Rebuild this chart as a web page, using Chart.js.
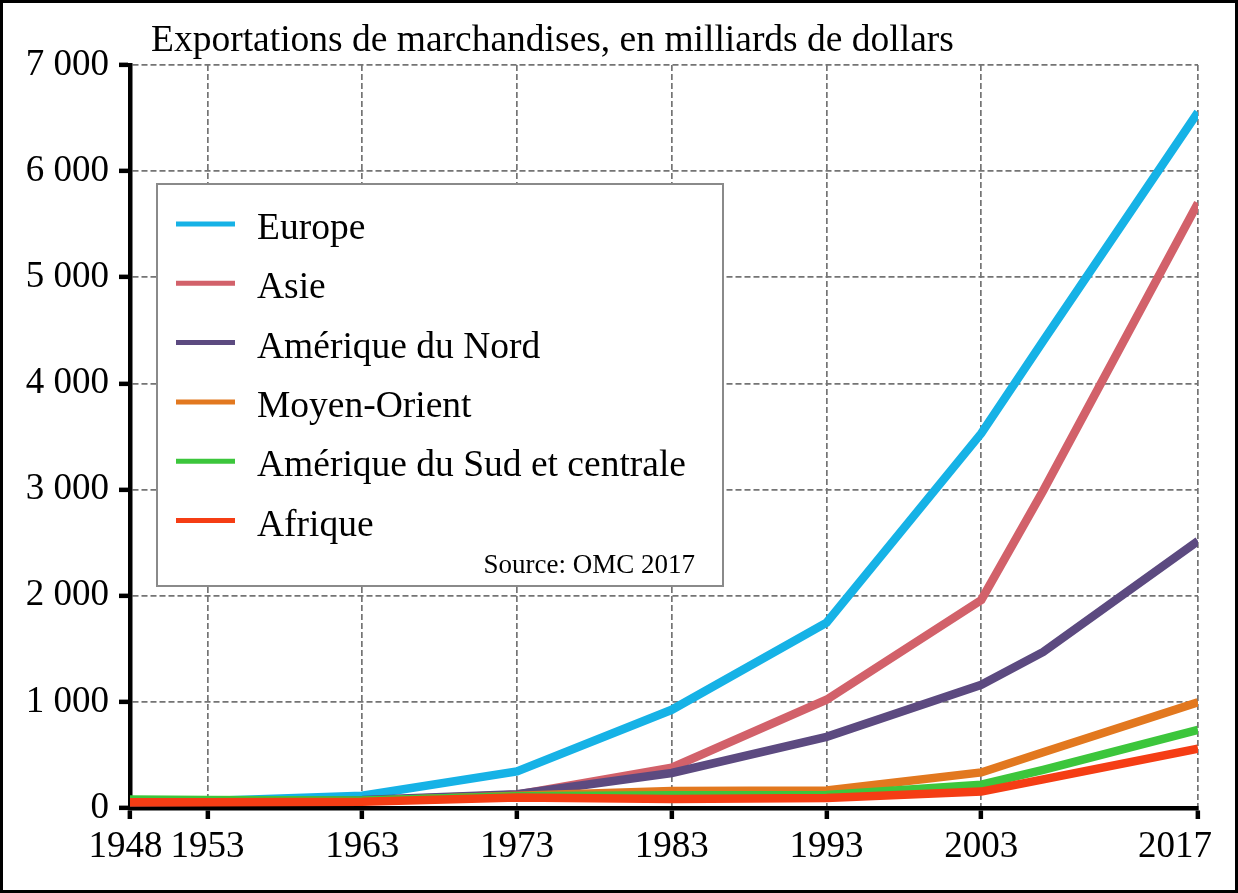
<!DOCTYPE html>
<html><head><meta charset="utf-8">
<script src="https://cdn.jsdelivr.net/npm/chart.js@4"></script>
<style>html,body{margin:0;padding:0;background:#fff;overflow:hidden}#wrap{width:1238px;height:893px;position:relative}</style>
</head><body><div id="wrap"><canvas id="c" width="1238" height="893"></canvas></div>
<script>
// ---- data ----
const years = [1948, 1953, 1963, 1973, 1983, 1993, 2003, 2007, 2017];
const xTickYears = [1948, 1953, 1963, 1973, 1983, 1993, 2003, 2017];
const yTickValues = [0, 1000, 2000, 3000, 4000, 5000, 6000, 7000];
const seriesNames = ["Europe", "Asie", "Amérique du Nord", "Moyen-Orient", "Amérique du Sud et centrale", "Afrique"];
const europe      = [60, 65, 115, 345, 925, 1745, 3530, 4400, 6555];
const asie        = [55, 60, 70, 125, 380, 1020, 1960, 2990, 5700];
const ameriqueNord= [60, 65, 75, 130, 330, 670, 1160, 1470, 2515];
const moyenOrient = [60, 60, 65, 115, 160, 165, 335, 525, 995];
const ameriqueSud = [80, 75, 70, 110, 120, 122, 220, 360, 735];
const afrique     = [55, 55, 60, 100, 85, 95, 155, 270, 560];
const seriesColors = ["#16b2e6", "#d2616a", "#5c4a80", "#e2781f", "#3cc63c", "#f53d14"];
const titleText = "Exportations de marchandises, en milliards de dollars";
const sourceText = "Source: OMC 2017";

const allSeries = [europe, asie, ameriqueNord, moyenOrient, ameriqueSud, afrique];
const SERIF = "'Liberation Serif', 'Times New Roman', serif";

function fmt(v){ const s = String(Math.round(v)); return s.length > 3 ? s.slice(0, s.length-3) + " " + s.slice(-3) : s; }
function xLabel(v, i){
  if (i === 0) return String(v) + " ";
  if (i === xTickYears.length - 1) return String(v) + "     ";
  return String(v);
}

const datasets = allSeries.map((vals, i) => ({
  label: seriesNames[i],
  data: vals.map((v, j) => ({x: years[j], y: v})),
  borderColor: seriesColors[i],
  backgroundColor: seriesColors[i],
  borderWidth: 8.5,
  pointRadius: 0,
  tension: 0,
  fill: false,
  order: allSeries.length - i
}));

const decor = {
  id: 'decor',
  beforeDatasetsDraw(chart) {
    const ctx = chart.ctx;
    ctx.save();
    const bx = 157, by = 184, bw = 566, bh = 402;
    ctx.fillStyle = '#fff';
    ctx.fillRect(bx, by, bw, bh);
    ctx.strokeStyle = '#8a8a8a';
    ctx.lineWidth = 2;
    ctx.strokeRect(bx, by, bw, bh);
    ctx.font = "37.5px " + SERIF;
    ctx.textBaseline = 'alphabetic';
    ctx.textAlign = 'left';
    chart.data.datasets.forEach((ds, i) => {
      const ly = 224 + i * 59.3;
      ctx.strokeStyle = ds.borderColor;
      ctx.lineWidth = 5;
      ctx.beginPath();
      ctx.moveTo(176, ly);
      ctx.lineTo(235, ly);
      ctx.stroke();
      ctx.fillStyle = '#000';
      ctx.fillText(ds.label, 257, ly + 15);
    });
    ctx.font = "27px " + SERIF;
    ctx.textAlign = 'right';
    ctx.fillText(sourceText, 695, 573);
    ctx.restore();
  },
  afterDraw(chart) {
    const ctx = chart.ctx;
    ctx.save();
    ctx.font = "37.5px " + SERIF;
    ctx.fillStyle = '#000';
    ctx.textAlign = 'left';
    ctx.textBaseline = 'alphabetic';
    ctx.fillText(titleText, 151, 51);
    ctx.strokeStyle = '#000';
    ctx.lineWidth = 3;
    ctx.strokeRect(1.5, 1.5, 1235, 890);
    ctx.restore();
  }
};

const gridCommon = {
  color: '#747474',
  lineWidth: 1.7,
  drawTicks: true,
  tickLength: 11,
  tickWidth: 4.5,
  tickColor: '#000',
  tickBorderDash: []
};
const borderCommon = { display: true, color: '#000', width: 4.5, dash: [6, 3] };

new Chart(document.getElementById('c'), {
  type: 'line',
  data: { datasets },
  options: {
    responsive: false,
    animation: false,
    devicePixelRatio: 1,
    layout: { padding: { left: 0, right: 40, top: 65, bottom: 0 } },
    plugins: { legend: { display: false }, tooltip: { enabled: false }, title: { display: false } },
    scales: {
      x: {
        type: 'linear', min: 1948, max: 2017,
        afterBuildTicks: s => { s.ticks = xTickYears.map(v => ({ value: v })); },
        afterFit: s => { s.height = 85; s.paddingLeft = 0; s.paddingRight = 0; },
        ticks: { autoSkip: false, maxRotation: 0, color: '#000', padding: 6,
          font: { family: SERIF, size: 37 }, callback: xLabel },
        grid: gridCommon,
        border: borderCommon
      },
      y: {
        type: 'linear', min: 0, max: 7000,
        afterBuildTicks: s => { s.ticks = yTickValues.map(v => ({ value: v })); },
        afterFit: s => { s.width = 130; s.paddingTop = 0; s.paddingBottom = 0; },
        ticks: { color: '#000', padding: 10, font: { family: SERIF, size: 37 }, callback: v => fmt(v) },
        grid: gridCommon,
        border: borderCommon
      }
    }
  },
  plugins: [decor]
});
</script></body></html>
